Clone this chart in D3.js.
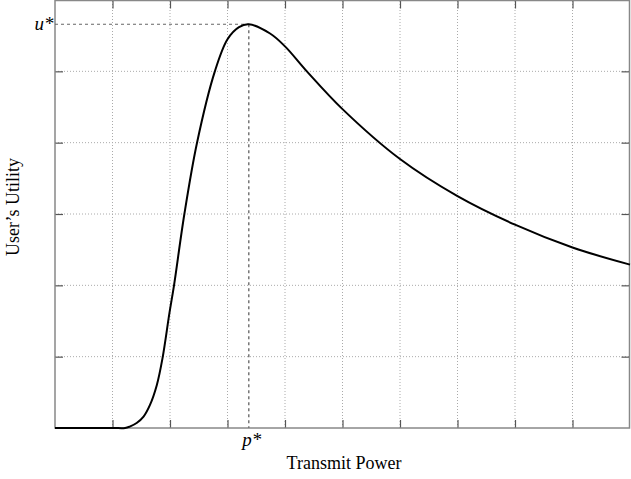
<!DOCTYPE html>
<html>
<head>
<meta charset="utf-8">
<script src="https://cdn.jsdelivr.net/npm/d3@7"></script>
<style>
  body { margin: 0; background: #fff; }
  text { font-family: "Liberation Serif", "Times New Roman", serif; }
</style>
</head>
<body>
<script>
// curve: transmit power vs utility
var powerVals   = [0, 1.0, 1.22, 1.3, 1.42, 1.54, 1.65, 1.77, 1.87, 1.99, 2.07, 2.25, 2.47, 2.78, 3.0, 3.2, 3.37, 3.74, 4.0, 4.38, 5.0, 6.0, 7.0, 8.0, 9.0, 10.0];
var utilityVals = [0, 0, 0, 0.02, 0.07, 0.16, 0.32, 0.6, 0.98, 1.61, 2.0, 3.0, 4.0, 5.0, 5.45, 5.62, 5.66, 5.53, 5.35, 5.0, 4.47, 3.77, 3.25, 2.85, 2.53, 2.29];
var xTicks = [0, 1, 2, 3, 4, 5, 6, 7, 8, 9, 10];
var yTicks = [0, 1, 2, 3, 4, 5, 6];
var optimum = { p: 3.37, u: 5.66 };

var W = 631, H = 479;
var margin = { top: 0, right: 1, bottom: 51, left: 55 };

var x = d3.scaleLinear().domain([0, 10]).range([margin.left, W - margin.right]);
var y = d3.scaleLinear().domain([0, 6]).range([H - margin.bottom, margin.top]);

var svg = d3.select("body").append("svg")
    .attr("width", W)
    .attr("height", H);

// dotted grid
svg.append("g").selectAll("line")
    .data(xTicks.slice(1, -1))
  .enter().append("line")
    .attr("x1", function(d) { return x(d); })
    .attr("x2", function(d) { return x(d); })
    .attr("y1", y(0)).attr("y2", y(6))
    .attr("stroke", "#aaa")
    .attr("stroke-width", 1)
    .attr("stroke-dasharray", "1,2");

svg.append("g").selectAll("line")
    .data(yTicks.slice(1, -1))
  .enter().append("line")
    .attr("x1", x(0)).attr("x2", x(10))
    .attr("y1", function(d) { return y(d); })
    .attr("y2", function(d) { return y(d); })
    .attr("stroke", "#aaa")
    .attr("stroke-width", 1)
    .attr("stroke-dasharray", "1,2");

// axes with inward ticks, no labels
var tickLen = 8;
svg.append("g")
    .attr("transform", "translate(0," + y(0) + ")")
    .call(d3.axisTop(x).tickValues(xTicks.slice(1, -1)).tickSize(tickLen).tickFormat(""));
svg.append("g")
    .attr("transform", "translate(0," + (y(6) + 0.5) + ")")
    .call(d3.axisBottom(x).tickValues(xTicks.slice(1, -1)).tickSize(tickLen).tickFormat(""));
svg.append("g")
    .attr("transform", "translate(" + x(0) + ",0)")
    .call(d3.axisRight(y).tickValues(yTicks.slice(1, -1)).tickSize(tickLen).tickFormat(""));
svg.append("g")
    .attr("transform", "translate(" + (x(10) - 0.5) + ",0)")
    .call(d3.axisLeft(y).tickValues(yTicks.slice(1, -1)).tickSize(tickLen).tickFormat(""));

svg.selectAll(".domain").remove();
svg.selectAll(".tick line").attr("stroke", "#555").attr("stroke-width", 1.2);

// frame
svg.append("rect")
    .attr("x", x(0)).attr("y", y(6) + 0.5)
    .attr("width", x(10) - x(0) - 0.5)
    .attr("height", y(0) - y(6) - 0.5)
    .attr("fill", "none")
    .attr("stroke", "#888")
    .attr("stroke-width", 1.5);

// optimum guides
svg.append("line")
    .attr("x1", x(0)).attr("x2", x(optimum.p))
    .attr("y1", y(optimum.u)).attr("y2", y(optimum.u))
    .attr("stroke", "#666").attr("stroke-width", 1)
    .attr("stroke-dasharray", "3,3");
svg.append("line")
    .attr("x1", x(optimum.p)).attr("x2", x(optimum.p))
    .attr("y1", y(optimum.u)).attr("y2", y(0))
    .attr("stroke", "#777").attr("stroke-width", 1.5)
    .attr("stroke-dasharray", "3,3");

// utility curve
var pts = powerVals.map(function(p, i) { return [p, utilityVals[i]]; });
var line = d3.line()
    .x(function(d) { return x(d[0]); })
    .y(function(d) { return y(Math.max(0, d[1])); })
    .curve(d3.curveCatmullRom.alpha(0.5));

svg.append("path")
    .datum(pts)
    .attr("d", line)
    .attr("fill", "none")
    .attr("stroke", "#000")
    .attr("stroke-width", 2);

// labels
svg.append("text")
    .attr("x", x(0) - 1.5).attr("y", 29.5)
    .attr("text-anchor", "end")
    .style("font-size", "19px").style("font-style", "italic")
    .text("u*");
svg.append("text")
    .attr("x", x(optimum.p) + 3).attr("y", y(0) + 18)
    .attr("text-anchor", "middle")
    .style("font-size", "19px").style("font-style", "italic")
    .text("p*");
svg.append("text")
    .attr("x", 344).attr("y", 469)
    .attr("text-anchor", "middle")
    .style("font-size", "18px")
    .text("Transmit Power");
svg.append("text")
    .attr("transform", "translate(19,207) rotate(-90)")
    .attr("text-anchor", "middle")
    .style("font-size", "18px")
    .text("User\u2019s Utility");
</script>
</body>
</html>
